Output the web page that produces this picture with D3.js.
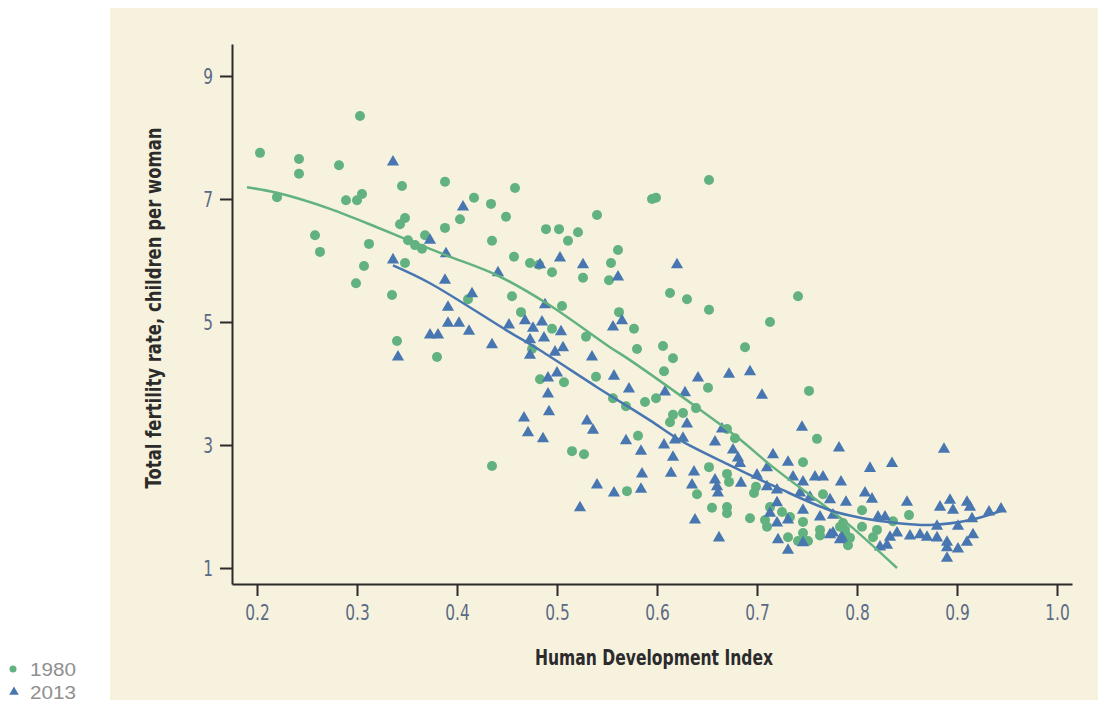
<!DOCTYPE html>
<html>
<head>
<meta charset="utf-8">
<script src="https://cdn.jsdelivr.net/npm/d3@7"></script>
<style>
  body { margin: 0; background: #fff; }
  svg { display: block; }
  .tick text { font-family: "Liberation Sans Narrow", "DejaVu Sans", sans-serif; }
</style>
</head>
<body>
<div id="chart"></div>
<script>
// HDI vs fertility, 1980 (circles) and 2013 (triangles)

var xTicks = [0.2, 0.3, 0.4, 0.5, 0.6, 0.7, 0.8, 0.9, 1.0];
var yTicks = [1, 3, 5, 7, 9];

// 1980 points [hdi, fertility]
var pts1980 = [
  [0.303,8.35],[0.203,7.75],[0.242,7.65],[0.242,7.41],[0.282,7.55],[0.220,7.03],[0.345,7.21],[0.388,7.28],
  [0.289,6.98],[0.300,6.98],[0.305,7.08],[0.348,6.69],[0.343,6.59],[0.388,6.53],[0.258,6.41],[0.263,6.14],
  [0.312,6.27],[0.351,6.33],[0.358,6.25],[0.365,6.19],[0.368,6.41],[0.348,5.96],[0.307,5.91],[0.299,5.63],
  [0.335,5.44],[0.340,4.69],[0.380,4.43],[0.458,7.18],[0.417,7.02],[0.434,6.92],[0.403,6.67],[0.449,6.71],
  [0.540,6.74],[0.435,6.32],[0.489,6.51],[0.502,6.51],[0.521,6.46],[0.511,6.32],[0.561,6.17],[0.457,6.06],
  [0.473,5.96],[0.482,5.93],[0.495,5.81],[0.554,5.96],[0.526,5.72],[0.552,5.68],[0.455,5.42],[0.505,5.26],
  [0.411,5.37],[0.464,5.16],[0.562,5.16],[0.495,4.89],[0.577,4.89],[0.529,4.76],[0.580,4.56],[0.475,4.56],
  [0.483,4.07],[0.507,4.02],[0.539,4.11],[0.556,3.76],[0.569,3.63],[0.588,3.70],[0.581,3.15],[0.515,2.90],
  [0.527,2.85],[0.435,2.66],[0.570,2.25],[0.652,7.31],[0.595,7.00],[0.599,7.02],[0.613,5.47],[0.630,5.37],
  [0.652,5.20],[0.741,5.42],[0.713,5.00],[0.606,4.61],[0.688,4.59],[0.616,4.41],[0.607,4.20],[0.651,3.93],
  [0.752,3.88],[0.599,3.76],[0.616,3.49],[0.626,3.52],[0.613,3.37],[0.639,3.60],[0.670,3.26],[0.678,3.11],
  [0.760,3.10],[0.746,2.72],[0.652,2.64],[0.670,2.53],[0.672,2.40],[0.640,2.20],[0.655,1.98],[0.670,1.99],
  [0.670,1.89],[0.693,1.81],[0.699,2.32],[0.697,2.22],[0.766,2.20],[0.713,1.99],[0.725,1.91],[0.733,1.83],
  [0.708,1.78],[0.710,1.67],[0.746,1.75],[0.746,1.57],[0.763,1.62],[0.731,1.50],[0.741,1.44],[0.751,1.44],
  [0.786,1.73],[0.788,1.57],[0.805,1.94],[0.836,1.76],[0.852,1.86],[0.805,1.67],[0.820,1.62],[0.816,1.50],
  [0.793,1.49],[0.791,1.37],[0.783,1.67],[0.788,1.62],[0.763,1.53]
];

// 2013 points [hdi, fertility]
var pts2013 = [
  [0.336,7.60],[0.373,6.33],[0.389,6.11],[0.336,6.01],[0.388,5.68],[0.391,5.24],[0.391,4.98],[0.373,4.79],
  [0.381,4.79],[0.341,4.43],[0.406,6.87],[0.441,5.80],[0.483,5.93],[0.503,6.04],[0.526,5.93],[0.561,5.73],
  [0.415,5.46],[0.488,5.28],[0.402,4.98],[0.412,4.85],[0.452,4.95],[0.468,5.02],[0.485,5.00],[0.476,4.90],
  [0.504,4.84],[0.487,4.74],[0.556,4.92],[0.565,5.02],[0.435,4.63],[0.473,4.71],[0.473,4.46],[0.498,4.51],
  [0.506,4.58],[0.535,4.43],[0.491,4.09],[0.500,4.17],[0.557,4.12],[0.572,3.91],[0.491,3.83],[0.492,3.54],
  [0.467,3.44],[0.471,3.20],[0.486,3.10],[0.530,3.39],[0.536,3.24],[0.569,3.07],[0.584,2.90],[0.585,2.53],
  [0.584,2.28],[0.540,2.35],[0.557,2.22],[0.523,1.98],[0.620,5.93],[0.641,4.09],[0.672,4.15],[0.693,4.19],
  [0.705,3.81],[0.608,3.86],[0.628,3.85],[0.630,3.34],[0.607,3.00],[0.618,3.08],[0.626,3.11],[0.658,3.05],
  [0.665,3.26],[0.616,2.80],[0.676,2.92],[0.681,2.79],[0.614,2.54],[0.637,2.56],[0.635,2.35],[0.658,2.43],
  [0.660,2.32],[0.661,2.22],[0.684,2.38],[0.700,2.51],[0.710,2.32],[0.745,3.29],[0.782,2.95],[0.716,2.84],
  [0.731,2.72],[0.710,2.63],[0.736,2.48],[0.746,2.40],[0.758,2.48],[0.766,2.48],[0.784,2.40],[0.743,2.22],
  [0.753,2.15],[0.773,2.11],[0.789,2.07],[0.746,1.94],[0.763,1.83],[0.776,1.86],[0.720,1.73],[0.720,2.06],
  [0.638,1.78],[0.662,1.49],[0.721,1.46],[0.731,1.29],[0.746,1.41],[0.773,1.54],[0.783,1.46],[0.887,2.93],
  [0.813,2.62],[0.835,2.70],[0.808,2.22],[0.815,2.12],[0.850,2.07],[0.883,1.99],[0.893,2.10],[0.910,2.07],
  [0.913,1.99],[0.896,1.94],[0.932,1.91],[0.944,1.96],[0.821,1.83],[0.828,1.83],[0.915,1.80],[0.901,1.68],
  [0.880,1.68],[0.776,1.57],[0.785,1.49],[0.833,1.50],[0.840,1.57],[0.853,1.52],[0.863,1.54],[0.870,1.50],
  [0.880,1.49],[0.890,1.42],[0.916,1.54],[0.910,1.42],[0.830,1.37],[0.823,1.34],[0.890,1.33],[0.901,1.31],
  [0.890,1.16],[0.683,2.70],[0.720,2.27],[0.713,1.89],[0.731,1.78]
];

// fitted curves
var fit1980 = [
  [0.190,7.19],[0.220,7.10],[0.273,6.84],[0.323,6.52],[0.353,6.32],[0.390,6.08],[0.440,5.76],[0.490,5.30],
  [0.553,4.59],[0.573,4.38],[0.640,3.61],[0.680,3.13],[0.716,2.64],[0.760,2.10],[0.790,1.73],[0.840,1.00]
];
var fit2013 = [
  [0.336,5.92],[0.373,5.63],[0.450,4.86],[0.483,4.54],[0.540,3.94],[0.593,3.40],[0.623,3.08],[0.673,2.67],
  [0.720,2.31],[0.773,1.94],[0.806,1.81],[0.840,1.73],[0.873,1.70],[0.913,1.78],[0.946,1.94]
];

var green = "#62b27f", blue = "#4876b0";
var width = 1098, height = 702;

var svg = d3.select("#chart").append("svg")
  .attr("width", width)
  .attr("height", height);

// cream panel
svg.append("rect")
  .attr("x", 110).attr("y", 8)
  .attr("width", width - 110).attr("height", 692)
  .attr("fill", "#f7f2de");

var x = d3.scaleLinear().domain([0.175, 1.015]).range([232, 1072]);
var y = d3.scaleLinear().domain([0.74, 9.52]).range([584, 44]);

// axes
var xAxis = svg.append("g")
  .attr("transform", "translate(0,584)")
  .call(d3.axisBottom(x).tickValues(xTicks).tickFormat(d3.format(".1f")).tickSize(12).tickSizeOuter(0));
var yAxis = svg.append("g")
  .attr("transform", "translate(232,0)")
  .call(d3.axisLeft(y).tickValues(yTicks).tickSize(12).tickSizeOuter(0));

[xAxis, yAxis].forEach(function(g) {
  g.select(".domain").attr("stroke", "#2b2b2b").attr("stroke-width", 2);
  g.selectAll(".tick line").attr("stroke", "#2b2b2b").attr("stroke-width", 2);
  g.selectAll(".tick text").attr("fill", "#5a6a86").attr("font-size", 22);
});
// squeeze the digits to look condensed
xAxis.selectAll(".tick text").attr("dy", "0.95em").attr("transform", "scale(0.7,1)");
yAxis.selectAll(".tick text").attr("x", -19 / 0.7).attr("transform", "scale(0.7,1)");

// points
svg.append("g").selectAll("circle")
  .data(pts1980)
  .enter()
  .append("circle")
    .attr("cx", function(d) { return x(d[0]); })
    .attr("cy", function(d) { return y(d[1]); })
    .attr("r", 5)
    .attr("fill", green);

var tri = d3.symbol().type(d3.symbolTriangle).size(64);
svg.append("g").selectAll("path")
  .data(pts2013)
  .enter()
  .append("path")
    .attr("d", tri)
    .attr("transform", function(d) { return "translate(" + x(d[0]) + "," + y(d[1]) + ")"; })
    .attr("fill", blue);

// fit lines
var line = d3.line()
  .x(function(d) { return x(d[0]); })
  .y(function(d) { return y(d[1]); })
  .curve(d3.curveCatmullRom);

svg.append("path").datum(fit1980)
  .attr("d", line).attr("fill", "none")
  .attr("stroke", green).attr("stroke-width", 2.5);
svg.append("path").datum(fit2013)
  .attr("d", line).attr("fill", "none")
  .attr("stroke", blue).attr("stroke-width", 2.5);

// axis titles
svg.append("text")
  .attr("x", 654).attr("y", 665)
  .attr("text-anchor", "middle")
  .attr("font-family", "'Liberation Sans Narrow', 'DejaVu Sans', sans-serif")
  .attr("font-weight", "bold")
  .attr("font-size", 21)
  .attr("textLength", 238)
  .attr("lengthAdjust", "spacingAndGlyphs")
  .attr("fill", "#2b2b2b")
  .text("Human Development Index");

svg.append("text")
  .attr("transform", "translate(161,308) rotate(-90)")
  .attr("text-anchor", "middle")
  .attr("font-family", "'Liberation Sans Narrow', 'DejaVu Sans', sans-serif")
  .attr("font-weight", "bold")
  .attr("font-size", 21)
  .attr("textLength", 361)
  .attr("lengthAdjust", "spacingAndGlyphs")
  .attr("fill", "#2b2b2b")
  .text("Total fertility rate, children per woman");

// legend
var legend = svg.append("g");
legend.append("circle")
  .attr("cx", 13).attr("cy", 669).attr("r", 3.5)
  .attr("fill", green);
legend.append("path")
  .attr("d", d3.symbol().type(d3.symbolTriangle).size(40))
  .attr("transform", "translate(14,692)")
  .attr("fill", blue);
legend.append("text")
  .attr("x", 30).attr("y", 676)
  .attr("font-family", "'Liberation Sans', Arial, sans-serif")
  .attr("font-size", 18)
  .attr("textLength", 46)
  .attr("lengthAdjust", "spacingAndGlyphs")
  .attr("fill", "#8f8f8f")
  .text("1980");
legend.append("text")
  .attr("x", 30).attr("y", 699)
  .attr("font-family", "'Liberation Sans', Arial, sans-serif")
  .attr("font-size", 18)
  .attr("textLength", 46)
  .attr("lengthAdjust", "spacingAndGlyphs")
  .attr("fill", "#8f8f8f")
  .text("2013");
</script>
</body>
</html>
